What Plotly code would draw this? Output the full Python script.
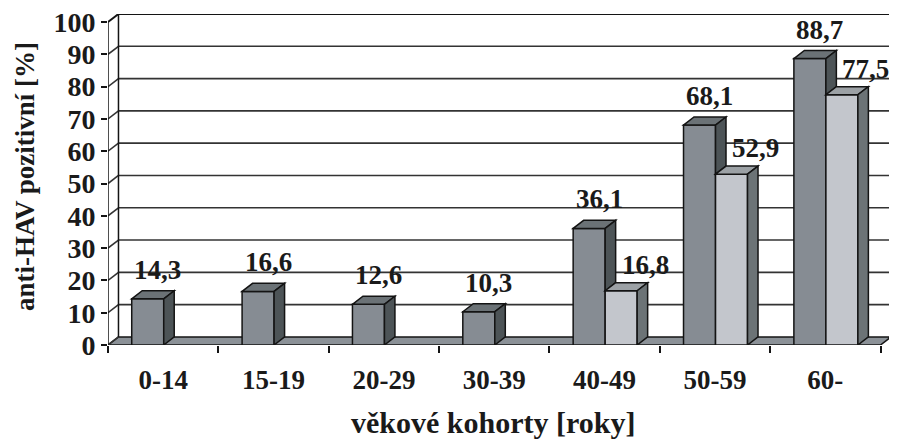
import plotly.graph_objects as go

categories = ["0-14", "15-19", "20-29", "30-39", "40-49", "50-59", "60-"]
series_a = [14.3, 16.6, 12.6, 10.3, 36.1, 68.1, 88.7]
series_b = [None, None, None, None, 16.8, 52.9, 77.5]
y_ticks = [0, 10, 20, 30, 40, 50, 60, 70, 80, 90, 100]
y_title = "anti-HAV pozitivní [%]"
x_title = "věkové kohorty [roky]"

FONT = "Liberation Serif, Times New Roman, serif"
DX = 0.095   # depth offset in x units
DY = 2.5     # depth offset in y units
W = 0.29
OFF_A = -0.285
OFF_B = 0.005
YMAX = 100

A_FRONT, A_TOP, A_SIDE = "#868c93", "#6b7276", "#4d5457"
B_FRONT, B_TOP, B_SIDE = "#c3c6cc", "#9ca1a5", "#6c7376"
FLOOR = "#8b9197"
GRID = "#333333"
EDGE = "#141414"

xs = list(range(len(categories)))
n = len(categories)

def fmt(v):
    return f"{v:.1f}".replace(".", ",")

fig = go.Figure()
fig.add_trace(go.Bar(x=xs, y=series_a, width=W, offset=OFF_A,
                     marker=dict(color=A_FRONT, line=dict(color=EDGE, width=1.5)),
                     showlegend=False, hoverinfo="skip"))
fig.add_trace(go.Bar(x=xs, y=series_b, width=W, offset=OFF_B,
                     marker=dict(color=B_FRONT, line=dict(color=EDGE, width=1.5)),
                     showlegend=False, hoverinfo="skip"))

shapes = []
x0, x1 = -0.5, n - 0.5
# floor
shapes.append(dict(type="path", layer="below", xref="x", yref="y",
                   path=f"M {x0},0 L {x1},0 L {x1+DX},{DY} L {x0+DX},{DY} Z",
                   fillcolor=FLOOR, line=dict(color=EDGE, width=1.5)))
# back wall gridlines and side wall diagonals
for v in y_ticks:
    col = EDGE if v == YMAX else GRID
    wdt = 2 if v == YMAX else 1.6
    if v > 0:
        shapes.append(dict(type="line", layer="below", xref="x", yref="y",
                           x0=x0 + DX, y0=v + DY, x1=x1 + DX, y1=v + DY,
                           line=dict(color=col, width=wdt)))
    shapes.append(dict(type="line", layer="below", xref="x", yref="y",
                       x0=x0, y0=v, x1=x0 + DX, y1=v + DY,
                       line=dict(color=col, width=wdt)))
# wall edges
shapes.append(dict(type="line", layer="below", xref="x", yref="y",
                   x0=x0 + DX, y0=DY, x1=x0 + DX, y1=YMAX + DY, line=dict(color=EDGE, width=1.5)))
shapes.append(dict(type="line", layer="below", xref="x", yref="y",
                   x0=x1 + DX, y0=DY, x1=x1 + DX, y1=YMAX + DY, line=dict(color=EDGE, width=1.5)))
shapes.append(dict(type="line", layer="below", xref="x", yref="y",
                   x0=x0, y0=0, x1=x0, y1=YMAX, line=dict(color=EDGE, width=1.5)))

def box_faces(L, h, base, top_col, side_col):
    R = L + W
    out = []
    out.append(dict(type="path", layer="above", xref="x", yref="y",
                    path=f"M {L},{h} L {L+DX},{h+DY} L {R+DX},{h+DY} L {R},{h} Z",
                    fillcolor=top_col, line=dict(color=EDGE, width=1.5)))
    out.append(dict(type="path", layer="above", xref="x", yref="y",
                    path=f"M {R},{base} L {R+DX},{base+DY} L {R+DX},{h+DY} L {R},{h} Z",
                    fillcolor=side_col, line=dict(color=EDGE, width=1.5)))
    return out

for i in xs:
    a = series_a[i]
    b = series_b[i]
    base = b if (b is not None and b < a) else 0
    shapes += box_faces(i + OFF_A, a, base, A_TOP, A_SIDE)
    if b is not None:
        shapes += box_faces(i + OFF_B, b, 0, B_TOP, B_SIDE)

lab_font = dict(family=FONT, size=27, color="#1a1a1a", weight=700)
annotations = []
for i in xs:
    a = series_a[i]
    annotations.append(dict(x=i + OFF_A + W / 2, y=a, xref="x", yref="y", text=fmt(a),
                            showarrow=False, xshift=10, yshift=29, font=lab_font,
                            xanchor="center", yanchor="middle"))
    b = series_b[i]
    if b is not None:
        annotations.append(dict(x=i + OFF_B + W / 2, y=b, xref="x", yref="y", text=fmt(b),
                                showarrow=False, xshift=24, yshift=26, font=lab_font,
                                xanchor="center", yanchor="middle"))

annotations.append(dict(x=-0.106, y=0.5076, xref="paper", yref="paper", text=y_title,
                        textangle=-90, showarrow=False, xanchor="center", yanchor="middle",
                        font=dict(family=FONT, size=27, color="#1a1a1a", weight=700)))
annotations.append(dict(x=0.4917, y=-0.235, xref="paper", yref="paper", text=x_title,
                        showarrow=False, xanchor="center", yanchor="middle",
                        font=dict(family=FONT, size=30, color="#1a1a1a", weight=700)))

# page body adds an 8px offset, so the figure is 8px smaller and margins shifted
fig.update_layout(
    width=889, height=438,
    margin=dict(l=100, r=6, t=6, b=101),
    paper_bgcolor="white", plot_bgcolor="white",
    barmode="overlay",
    shapes=shapes, annotations=annotations,
    showlegend=False,
    xaxis=dict(range=[x0, x1 + DX], tickvals=xs, ticktext=categories,
               ticks="outside", ticklen=0, ticklabelstandoff=11, automargin=False,
               ticklabeloverflow="allow",
               tickfont=dict(family=FONT, size=27, color="#1a1a1a", weight=700),
               showgrid=False, zeroline=False, showline=False,
               minor=dict(tickvals=[k - 0.5 for k in range(n + 1)], ticks="outside",
                          ticklen=7, tickwidth=1.5, tickcolor=EDGE, showgrid=False)),
    yaxis=dict(range=[0, YMAX + DY], tickvals=y_ticks, ticks="outside", ticklen=6,
               tickwidth=1.5, tickcolor=EDGE, automargin=False,
               ticklabeloverflow="allow",
               tickfont=dict(family=FONT, size=28, color="#1a1a1a", weight=700),
               showgrid=False, zeroline=False, showline=False),
)

fig.write_html("out.html")
